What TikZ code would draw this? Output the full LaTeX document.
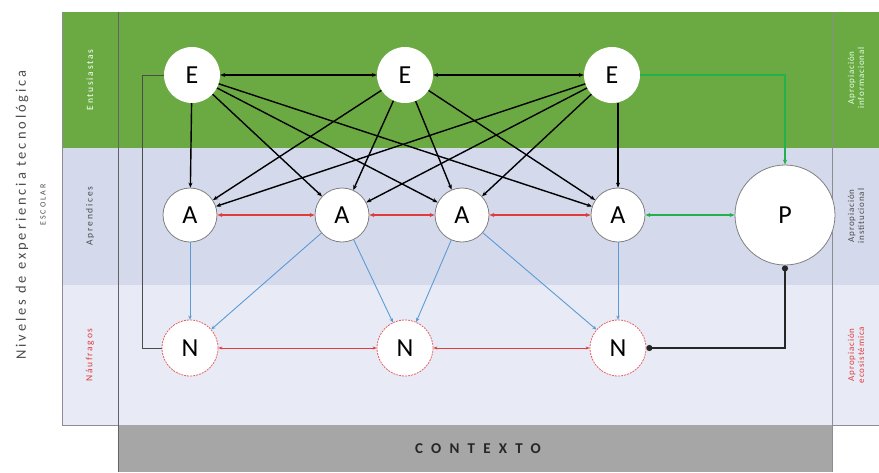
\documentclass[tikz,border=0pt]{standalone}
\usepackage{fontspec}
\setmainfont{Carlito}
\usetikzlibrary{arrows.meta}
\definecolor{bandgreen}{HTML}{6BAA43}
\definecolor{bandlav}{HTML}{D5D9EC}
\definecolor{bandlight}{HTML}{E8EBF5}
\definecolor{ctxgray}{HTML}{A6A6A6}
\definecolor{linkgreen}{HTML}{22B14C}
\definecolor{linkblue}{HTML}{5B9BD5}
\definecolor{linkred}{HTML}{E03C3C}
\definecolor{framegray}{HTML}{8C8C96}
\tikzset{
  enode/.style={circle,fill=white,minimum size=56pt,inner sep=0pt,font=\fontsize{26}{26}\selectfont},
  anode/.style={circle,fill=white,draw=gray,line width=0.8pt,minimum size=54pt,inner sep=0pt,font=\fontsize{26}{26}\selectfont},
  nnode/.style={circle,fill=white,draw=linkred!80,dashed,dash pattern=on 2pt off 1pt,line width=0.8pt,minimum size=56pt,inner sep=0pt,font=\fontsize{26}{26}\selectfont},
  pnode/.style={circle,fill=white,draw=gray,line width=0.8pt,minimum size=100pt,inner sep=0pt,font=\fontsize{26}{26}\selectfont},
  blk/.style={black,line width=1.4pt,-{Stealth[length=5pt,width=4pt]}},
  blk2/.style={black,line width=1.4pt,{Stealth[length=5pt,width=4pt]}-{Stealth[length=5pt,width=4pt]}},
  redl/.style={linkred,line width=1.8pt,{Stealth[length=5pt,width=4pt]}-{Stealth[length=5pt,width=4pt]}},
  redthin/.style={linkred,line width=0.7pt,{Stealth[length=4pt,width=3pt]}-{Stealth[length=4pt,width=3pt]}},
  bluel/.style={linkblue,line width=0.9pt,-{Stealth[length=4pt,width=3.5pt]}},
  greenl/.style={linkgreen,line width=1.6pt},
  sidelabel/.style={rotate=90,font=\fontsize{9.5}{10}\selectfont\addfontfeature{LetterSpace=18},align=center},
}
\begin{document}
\begin{tikzpicture}[x=1pt,y=-1pt]
\useasboundingbox (0,0) rectangle (879,472);
\fill[white] (0,0) rectangle (879,472);
% bands
\fill[bandgreen] (62,12) rectangle (879,148);
\fill[bandlav] (62,148) rectangle (879,285);
\fill[bandlight] (62,285) rectangle (879,425);
\fill[ctxgray] (118,425) rectangle (832,472);
% frame lines
\draw[framegray,line width=1pt] (62,12) -- (62,425) -- (118,425);
\draw[framegray!70!black,line width=1pt] (118,12) -- (118,472);
\draw[framegray,line width=1pt] (832,12) -- (832,472);
\draw[framegray,line width=1pt] (832,425) -- (879,425);
% outer labels
\node[rotate=90,font=\fontsize{14.5}{14}\selectfont\addfontfeature{LetterSpace=20},text=black!70] (lvl) at (22,215) {Niveles de experiencia tecnológica};
\node[rotate=90,font=\fontsize{8}{8}\selectfont\addfontfeature{LetterSpace=25},text=black!70] (esc) at (43,205) {ESCOLAR};
\node[sidelabel,text=white] (l1) at (90,80) {Entusiastas};
\node[sidelabel,text=black!70] (l2) at (90,216) {Aprendices};
\node[sidelabel,text=linkred] (l3) at (90,355) {Náufragos};
\node[sidelabel,font=\fontsize{9}{10}\selectfont\addfontfeature{LetterSpace=10},text=white!90!green] (r1) at (856,78) {Apropiación\\informacional};
\node[sidelabel,font=\fontsize{9}{10}\selectfont\addfontfeature{LetterSpace=10},text=black!70] (r2) at (856,216) {Apropiación\\institucional};
\node[sidelabel,font=\fontsize{9}{10}\selectfont\addfontfeature{LetterSpace=10},text=linkred] (r3) at (856,355) {Apropiación\\ecosistémica};
\node[font=\bfseries\fontsize{15}{15}\selectfont\addfontfeature{LetterSpace=55},text=black!85] (ctx) at (478,449) {CONTEXTO};
% nodes
\node[enode] (E1) at (192,75) {E};
\node[enode] (E2) at (405,75) {E};
\node[enode] (E3) at (612,75) {E};
\node[anode] (A1) at (190,215) {A};
\node[anode] (A2) at (342,215) {A};
\node[anode] (A3) at (462,215) {A};
\node[anode] (A4) at (618,215) {A};
\node[pnode] (P) at (785,215) {P};
\node[nnode] (N1) at (190,348) {N};
\node[nnode] (N2) at (405,348) {N};
\node[nnode] (N3) at (618,348) {N};
% E-E
\draw[blk2] (E1) -- (E2);
\draw[blk2] (E2) -- (E3);
% E-A
\foreach \e in {E1,E2,E3}{
  \foreach \a in {A1,A2,A3}{
    \draw[blk] (\e) -- (\a);
  }
}
\draw[blk] (E1) -- (A4);
\draw[blk] (E2) -- (A4);
\draw[blk] (E3.south -| A4) -- (A4);
% E1 - N1 side loop
\coordinate (c1) at (142,75);
\coordinate (c2) at (142,348);
\draw[black!70,line width=1pt] (E1.west) -- (c1) -- (c2) -- (N1.west);
% E3 - P green
\coordinate (g1) at (785,75);
\draw[greenl,-{Stealth[length=5pt,width=4pt]}] (E3.east) -- (g1) -- (P.north);
% A-A red
\draw[redl] (A1) -- (A2);
\draw[redl] (A2) -- (A3);
\draw[redl] (A3) -- (A4);
% A4-P green
\draw[greenl,{Stealth[length=5pt,width=4pt]}-{Stealth[length=5pt,width=4pt]}] (A4) -- (P);
% A-N blue
\draw[bluel] (A1) -- (N1);
\draw[bluel] (A2) -- (N1);
\draw[bluel] (A2) -- (N2);
\draw[bluel] (A3) -- (N2);
\draw[bluel] (A3) -- (N3);
\draw[bluel] (A4) -- (N3);
% N-N red thin
\draw[redthin] (N1) -- (N2);
\draw[redthin] (N2) -- (N3);
% N3 - P black
\coordinate (k1) at (785,348);
\draw[black!85,line width=2pt,{Circle[length=6pt]}-{Circle[length=6pt]}] (N3.east) -- (k1) -- (P.south);
\end{tikzpicture}
\end{document}
